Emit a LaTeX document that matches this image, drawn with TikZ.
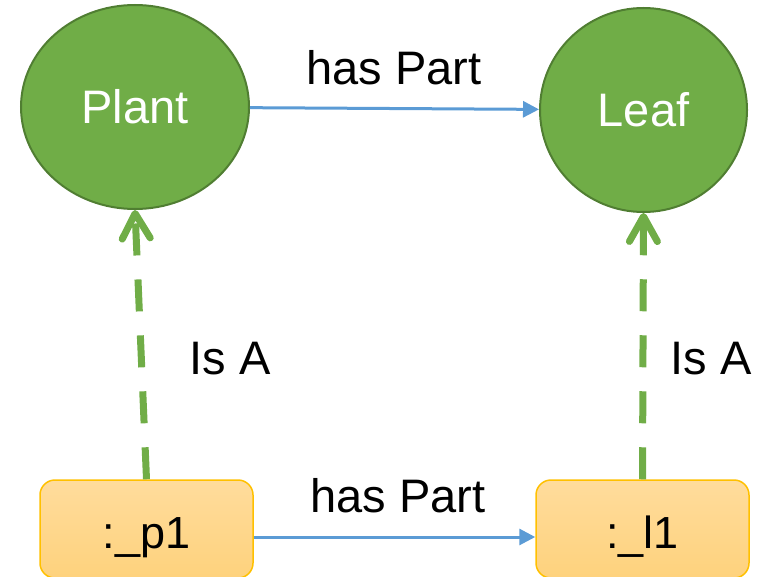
\documentclass[tikz,border=0pt]{standalone}
\usepackage{fontspec}
\setmainfont{Liberation Sans}
\usetikzlibrary{shapes.geometric,arrows.meta}
\definecolor{cgreen}{HTML}{70AD47}
\definecolor{cgreendk}{HTML}{507E32}
\definecolor{cblue}{HTML}{5B9BD5}
\definecolor{cgold}{HTML}{FFC000}
\definecolor{ctop}{HTML}{FFDC9C}
\definecolor{cbot}{HTML}{FED27D}
\begin{document}
\begin{tikzpicture}[x=1pt,y=-1pt,
 classnode/.style={ellipse, fill=cgreen, draw=cgreendk, line width=2pt, inner sep=0pt, text=white, font=\fontsize{47}{50}\selectfont},
 instnode/.style={rectangle, rounded corners=15pt, top color=ctop, bottom color=cbot, draw=cgold, line width=1.5pt, minimum width=213pt, minimum height=98pt, inner sep=0pt, text height=48pt, text depth=10pt, font=\fontsize{45}{50}\selectfont},
 rellabel/.style={anchor=base, inner sep=0pt, font=\fontsize{47}{50}\selectfont},
 haspart/.style={cblue, line width=3pt, -{Triangle[length=16pt,width=16pt]}},
 isa/.style={cgreen, line width=7pt, dash pattern=on 32pt off 24pt, -{Straight Barb[length=25pt,width=28pt,round]}}
]
\useasboundingbox (0,0) rectangle (775,577);
\node[classnode, minimum width=228pt, minimum height=204pt] (plant) at (135,107) {Plant};
\node[classnode, minimum width=207pt, minimum height=204pt] (leaf) at (643.5,110) {Leaf};
\node[instnode] (p1) at (146.5,529) {:\_p1};
\node[instnode] (l1) at (642.5,529) {:\_l1};
\draw[haspart] (plant) -- (leaf);
\draw[haspart] ([yshift=-8pt]p1.east) -- ([yshift=-8pt]l1.west);
\draw[isa] (p1.north) -- (plant.south);
\draw[isa] (l1.north) -- (leaf.south);
\node[rellabel] (hp1) at (394,85) {has Part};
\node[rellabel] (hp2) at (398,512) {has Part};
\node[rellabel] (isa1) at (230,374) {Is A};
\node[rellabel] (isa2) at (711,374) {Is A};
\end{tikzpicture}
\end{document}
